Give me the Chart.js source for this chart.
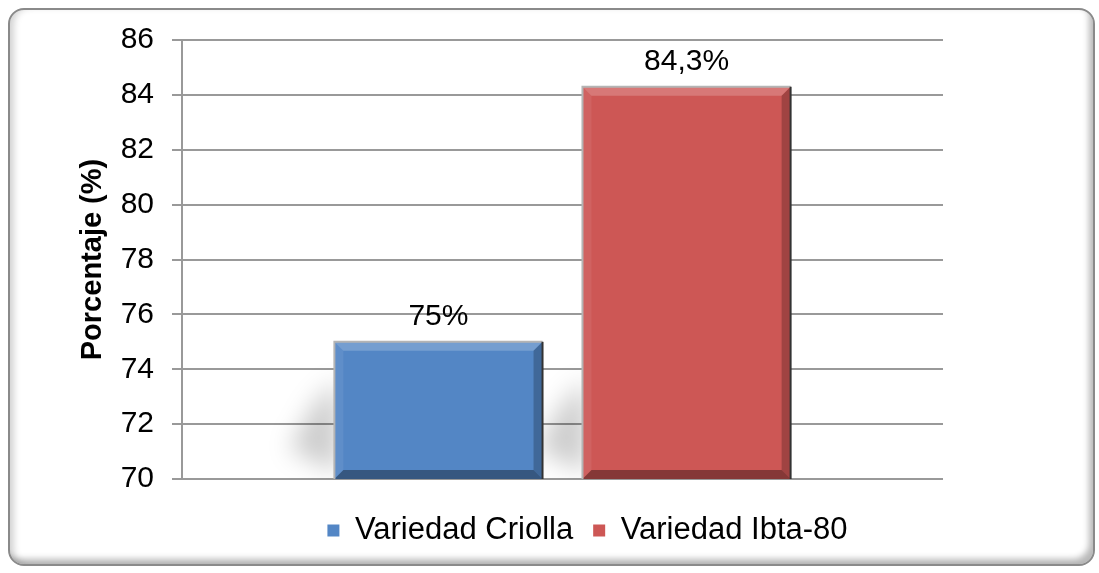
<!DOCTYPE html>
<html>
<head>
<meta charset="utf-8">
<script src="https://cdn.jsdelivr.net/npm/chart.js@4/dist/chart.umd.min.js"></script>
<style>
  html, body { margin: 0; padding: 0; background: #ffffff; }
  #card {
    position: absolute; left: 8px; top: 8px; width: 1083px; height: 554px;
    border: 2px solid #8a8a8a; border-radius: 16px; background: #ffffff;
    box-shadow: inset -6px -7px 6px -2px rgba(0,0,0,0.28), inset 7px 0 7px -3px rgba(0,0,0,0.18);
  }
  #c { position: absolute; left: 0; top: 0; }
</style>
</head>
<body>
<div id="card"></div>
<canvas id="c" width="1099" height="573"></canvas>
<script>
// ---- data ----
const categories = [''];
const seriesNames = ['Variedad Criolla', 'Variedad Ibta-80'];
const criollaValues = [75];
const ibtaValues = [84.3];
const valueLabels = [['75%'], ['84,3%']];
const yTicks = { min: 70, max: 86, step: 2 };
const yTitle = 'Porcentaje (%)';

const FONT = "'Liberation Sans', Arial, sans-serif";

function barBox(chart, el) {
  const p = el.getProps(['x', 'y', 'base', 'width'], true);
  const area = chart.chartArea;
  return {
    l: p.x - p.width / 2, r: p.x + p.width / 2, x: p.x,
    t: Math.max(p.y, area.top), b: Math.min(p.base, area.bottom)
  };
}

const shadowPlugin = {
  id: 'barShadow',
  beforeDatasetsDraw(chart) {
    const ctx = chart.ctx, area = chart.chartArea;
    ctx.save();
    ctx.beginPath();
    ctx.rect(area.left, area.top, area.right - area.left, area.bottom - area.top);
    ctx.clip();
    ctx.filter = 'blur(12px)';
    ctx.fillStyle = 'rgba(0,0,0,0.20)';
    chart.data.datasets.forEach((ds, i) => {
      const meta = chart.getDatasetMeta(i);
      meta.data.forEach(el => {
        const q = barBox(chart, el);
        const h = Math.min(100, q.b - q.t);
        ctx.beginPath();
        ctx.moveTo(q.l + 4, q.b - 6);
        ctx.lineTo(q.l - 45, q.b - 30);
        ctx.lineTo(q.l - 20, q.b - h * 0.75);
        ctx.lineTo(q.l + 4, q.b - h);
        ctx.closePath();
        ctx.fill();
      });
    });
    ctx.restore();
  }
};

const bevelPlugin = {
  id: 'barBevel',
  afterDatasetsDraw(chart) {
    const ctx = chart.ctx;
    chart.data.datasets.forEach((ds, i) => {
      const meta = chart.getDatasetMeta(i);
      meta.data.forEach((el, j) => {
        const q = barBox(chart, el);
        const l = q.l, r = q.r, t = q.t, b = q.b, d = 9;
        ctx.save();
        const poly = (pts, fill) => {
          ctx.beginPath();
          ctx.moveTo(pts[0][0], pts[0][1]);
          for (let k = 1; k < pts.length; k++) ctx.lineTo(pts[k][0], pts[k][1]);
          ctx.closePath();
          ctx.fillStyle = fill;
          ctx.fill();
        };
        poly([[l, t], [r, t], [r - d, t + d], [l + d, t + d]], 'rgba(255,255,255,0.20)');
        poly([[l, t], [l + d, t + d], [l + d, b - d], [l, b]], 'rgba(255,255,255,0.07)');
        poly([[r, t], [r, b], [r - d, b - d], [r - d, t + d]], 'rgba(0,0,0,0.22)');
        poly([[l, b], [r, b], [r - d, b - d], [l + d, b - d]], 'rgba(0,0,0,0.35)');
        ctx.lineWidth = 2;
        ctx.strokeStyle = '#b4b4b4';
        ctx.beginPath();
        ctx.moveTo(l, b); ctx.lineTo(l, t); ctx.lineTo(r, t);
        ctx.stroke();
        ctx.strokeStyle = '#333333';
        ctx.beginPath();
        ctx.moveTo(r, t); ctx.lineTo(r, b);
        ctx.stroke();
        ctx.restore();

        // value label
        ctx.save();
        ctx.font = '30px ' + FONT;
        ctx.fillStyle = '#000000';
        ctx.textAlign = 'center';
        ctx.textBaseline = 'alphabetic';
        ctx.fillText(valueLabels[i][j], q.x, t - 17);
        ctx.restore();
      });
    });
  }
};

new Chart(document.getElementById('c'), {
  type: 'bar',
  data: {
    labels: categories,
    datasets: [
      { label: seriesNames[0], data: criollaValues, backgroundColor: '#5386C5', yAxisID: 'y',
        borderWidth: 0, categoryPercentage: 0.652, barPercentage: 0.839 },
      { label: seriesNames[1], data: ibtaValues, backgroundColor: '#CD5755', yAxisID: 'y',
        borderWidth: 0, categoryPercentage: 0.652, barPercentage: 0.839 }
    ]
  },
  options: {
    responsive: false,
    animation: false,
    devicePixelRatio: 1,
    layout: { padding: { left: 76, right: 0, top: 40, bottom: 17 } },
    plugins: {
      tooltip: { enabled: false },
      legend: {
        position: 'bottom',
        labels: {
          font: { family: FONT, size: 31 },
          color: '#000000',
          boxWidth: 12, boxHeight: 12, padding: 20
        }
      }
    },
    scales: {
      x: {
        display: true,
        ticks: { display: false },
        grid: { display: false },
        border: { display: false },
        afterFit: s => { s.height = 16; }
      },
      y: {
        position: 'left',
        min: yTicks.min, max: yTicks.max,
        ticks: { stepSize: yTicks.step, font: { family: FONT, size: 30 }, color: '#000000', padding: 18 },
        grid: { color: '#999999', lineWidth: 2, tickLength: 10, drawTicks: true },
        border: { display: true, color: '#999999', width: 2 },
        title: { display: true, text: yTitle, font: { family: FONT, size: 29, weight: 'bold' }, color: '#000000', padding: { top: 0, bottom: 0 } },
        afterFit: s => { s.width = 106; }
      },
      y2: {
        position: 'right',
        display: true,
        ticks: { display: false },
        grid: { display: false, drawOnChartArea: false },
        border: { display: false },
        afterFit: s => { s.width = 156; }
      }
    }
  },
  plugins: [shadowPlugin, bevelPlugin]
});
</script>
</body>
</html>
